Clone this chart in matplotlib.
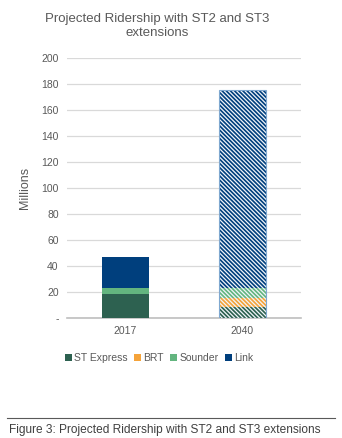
import matplotlib
matplotlib.use("Agg")
import matplotlib.pyplot as plt
import numpy as np
from matplotlib.patches import Patch

plt.rcParams['font.family'] = ['Liberation Sans', 'DejaVu Sans']

years = ["2017", "2040"]
series = ["ST Express", "BRT", "Sounder", "Link"]
st_express = [18.0, 8.5]
brt = [0.0, 7.0]
sounder = [4.5, 7.5]
link = [24.5, 152.7]
colors = ["#2D6150", "#F5A33A", "#63B57F", "#003F7D"]
yticks = [0, 20, 40, 60, 80, 100, 120, 140, 160, 180, 200]
ytick_labels = ["-"] + [str(v) for v in yticks[1:]]

gray = "#595959"
fig = plt.figure(figsize=(3.42, 4.38), dpi=100)
ax = fig.add_axes([0.196, 0.2747, 0.684, 0.593])

x = np.arange(len(years))
w = 0.40
plt.rcParams['hatch.linewidth'] = 0.9
bottom = np.zeros(2)
data = [st_express, brt, sounder, link]
for name, vals, col in zip(series, data, colors):
    vals = np.array(vals)
    ax.bar(x[0], vals[0], w, bottom=bottom[0], color=col, linewidth=0, zorder=3)
    ax.bar(x[1], vals[1], w, bottom=bottom[1], color=col, edgecolor="#F2F6FA",
           hatch="\\\\\\\\\\\\\\\\", linewidth=0, zorder=3)
    bottom += vals
ax.bar(x[1], bottom[1], w, color="none", edgecolor="#7FA8D0", linewidth=0.8, zorder=4)

ax.set_xlim(-0.5, 1.5)
ax.set_ylim(0, 200)
ax.set_yticks(yticks)
ax.set_yticklabels(ytick_labels)
ax.set_xticks(x)
ax.set_xticklabels(years)
ax.yaxis.grid(True, color="#D9D9D9", linewidth=0.9, zorder=0)
ax.set_axisbelow(True)
for s in ["top", "right", "left"]:
    ax.spines[s].set_visible(False)
ax.spines["bottom"].set_color("#BFBFBF")
ax.spines["bottom"].set_linewidth(1.2)
ax.tick_params(axis="both", length=0, labelsize=7.5, labelcolor=gray, pad=6)
ax.set_ylabel("Millions", fontsize=9, color=gray, labelpad=7)

fig.text(0.46, 0.94, "Projected Ridership with ST2 and ST3\nextensions",
         ha="center", va="center", fontsize=9.5, color=gray, linespacing=1.2)

handles = [Patch(facecolor=c, edgecolor="none") for c in colors]
fig.legend(handles, series, loc="center", bbox_to_anchor=(0.465, 0.183), ncol=4,
           frameon=False, fontsize=7.5, handlelength=0.7, handleheight=0.7,
           handletextpad=0.2, columnspacing=0.6, labelcolor=gray)

fig.add_artist(plt.Line2D([7/342, 335/342], [1-418/438, 1-418/438], color="#595959", linewidth=0.8))
fig.text(9/342, 1-430/438, "Figure 3: Projected Ridership with ST2 and ST3 extensions",
         ha="left", va="center", fontsize=8.6, color="#404040")

fig.savefig("out.png", dpi=100)
